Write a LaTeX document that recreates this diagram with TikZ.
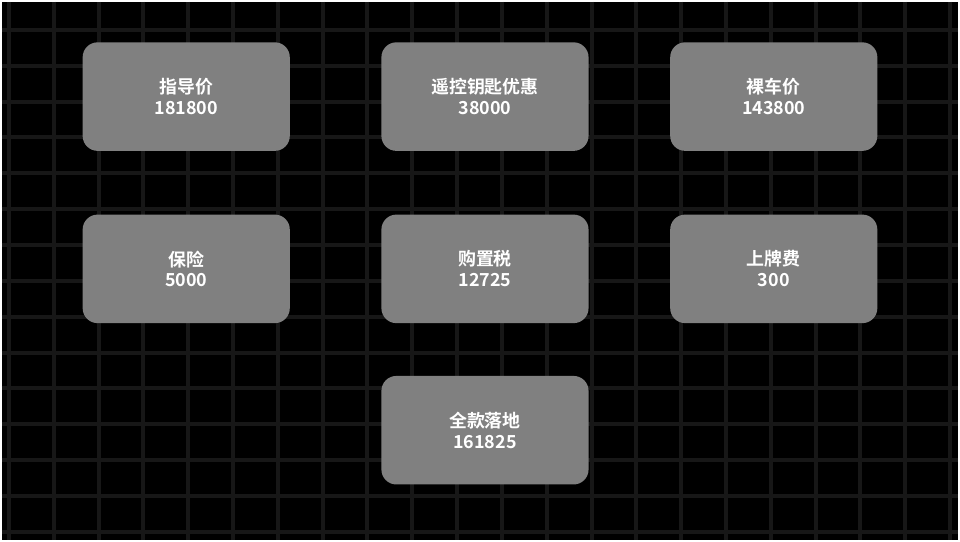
\documentclass[tikz,border=0pt]{standalone}
\usepackage{fontspec}
\newfontfamily\cjk{Noto Sans CJK SC}[BoldFont={* Bold}]
\usetikzlibrary{positioning}
\begin{document}
\begin{tikzpicture}[
    x=0.5pt, y=-0.5pt,
    every node/.style={font=\cjk\bfseries\fontsize{9}{10.5}\selectfont},
    price/.style={rectangle, fill=black!50, text=white, minimum width=104pt, minimum height=54.5pt, rounded corners=7.5pt, align=center, inner sep=0pt},
    gridline/.style={line width=2pt, draw=black!91}
]

\fill[black] (0,0) rectangle (960,540);
\foreach \x in {0,...,21} \draw[gridline] (7+45*\x,0) -- (7+45*\x,540);
\foreach \y in {0,...,14} \draw[gridline] (0,28+36*\y) -- (960,28+36*\y);

\node[price] (guide) at (185,95) {指导价\\181800};
\node[price] (remote) at (485,95) {遥控钥匙优惠\\38000};
\node[price] (bare) at (775,95) {裸车价\\143800};
\node[price] (insure) at (185,268) {保险\\5000};
\node[price] (tax) at (485,268) {购置税\\12725};
\node[price] (plate) at (775,268) {上牌费\\300};
\node[price] (total) at (485,430) {全款落地\\161825};

\end{tikzpicture}
\end{document}
